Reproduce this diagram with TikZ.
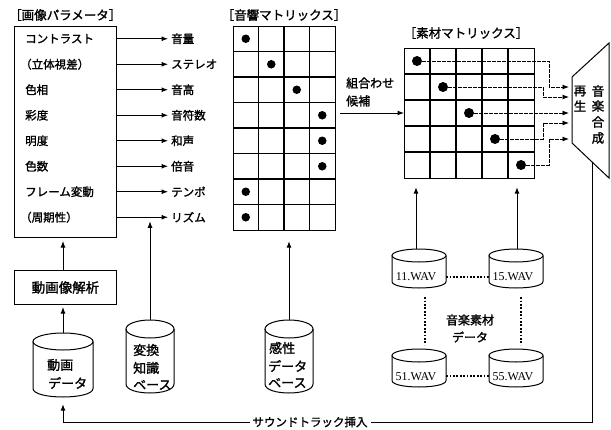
\documentclass[tikz,border=0pt]{standalone}
\usepackage{fontspec}
\setmainfont{Noto Sans CJK JP}[AutoFakeBold=1.5]
\newfontfamily\wavfont{Liberation Serif}
\usetikzlibrary{arrows.meta,calc}
\newcommand\dbcyl[6]{%
  \node[inner sep=0pt, minimum width=2*#5pt, minimum height=#4pt-#3pt] (#1) at (#2,{(#3+#4)/2}) {};
  \draw[ln] (#2-#5,#3+#6) -- (#2-#5,#4-#6) .. controls (#2-#5,{#4-#6+1.333*#6}) and (#2+#5,{#4-#6+1.333*#6}) .. (#2+#5,#4-#6) -- (#2+#5,#3+#6);
  \draw[ln] (#2,#3+#6) ellipse [x radius=#5, y radius=#6];
}
\begin{document}
\begin{tikzpicture}[x=1pt,y=-1pt,
  ln/.style={line width=1pt},
  arr/.style={ln,-{Latex[length=6.5pt,width=5pt]}},
  lbl/.style={font=\bfseries\fontsize{11.5}{12}\selectfont, inner sep=1pt},
  ttl/.style={font=\bfseries\fontsize{12.5}{13}\selectfont, inner sep=0pt},
  cyltxt/.style={font=\bfseries\fontsize{13}{14}\selectfont, inner sep=0pt, anchor=west},
  dotn/.style={fill=black, circle, inner sep=0pt},
  dsh/.style={line width=0.9pt, dash pattern=on 3.5pt off 1.5pt},
  dotl/.style={line width=2.6pt, dash pattern=on 1.8pt off 1.6pt},
  grid/.style={line width=1.1pt},
  box/.style={draw, ln, inner sep=0pt, anchor=north west}
]
\useasboundingbox (0,0) rectangle (611,429);

% ---- image parameters
\node[ttl, anchor=west] (ptitle) at (9,15) {［画像パラメータ］};
\node[box, minimum width=102pt, minimum height=211pt] (pbox) at (14,26) {};
\foreach \i/\a/\b/\dx in {1/コントラスト/音量/0, 2/（立体視差）/ステレオ/-5, 3/色相/音高/0, 4/彩度/音符数/0, 5/明度/和声/0, 6/色数/倍音/0, 7/フレーム変動/テンポ/0, 8/（周期性）/リズム/-5}{
  \pgfmathsetmacro\yy{26+25.5*(\i-0.5)}
  \node[lbl, anchor=west] (p\i) at (24+\dx,\yy) {\a};
  \node[lbl, anchor=west] (s\i) at (170,\yy) {\b};
  \draw[arr, shorten >=2pt] (pbox.east |- p\i) -- (s\i.west);
}

% ---- sound matrix
\node[ttl] (stitle) at (284,15) {［音響マトリックス］};
\node[box, grid, minimum width=102pt, minimum height=204pt] (smat) at (233,26) {};
\foreach \c in {1,2,3} \draw[grid] (233+25.5*\c,26) -- (233+25.5*\c,230);
\foreach \r in {1,...,7} \draw[grid] (233,26+25.5*\r) -- (335,26+25.5*\r);
\foreach \r/\c in {1/1,2/2,3/3,4/4,5/4,6/4,7/1,8/1}
  \node[dotn, minimum size=8.5pt] (sd\r) at (233+25.5*\c-12.75, 26+25.5*\r-12.75) {};

% ---- combination candidates
\node[lbl, anchor=west, font=\bfseries\fontsize{12}{12}\selectfont] (kumi1) at (345,83) {組合わせ};
\node[lbl, anchor=west, font=\bfseries\fontsize{12}{12}\selectfont] (kumi2) at (345,101) {候補};
\coordinate (kin) at (340,113);

% ---- material matrix
\node[ttl] (mtitle) at (466,33) {［素材マトリックス］};
\node[box, grid, minimum width=130pt, minimum height=130pt] (mmat) at (404,48) {};
\foreach \c in {1,...,4} \draw[grid] (404+26*\c,48) -- (404+26*\c,178);
\foreach \r in {1,...,4} \draw[grid] (404,48+26*\r) -- (534,48+26*\r);
\foreach \i in {1,...,5}
  \node[dotn, minimum size=10pt] (md\i) at (404+26*\i-13, 48+26*\i-13) {};
\draw[arr] (kin) -- (mmat.west |- kin);

% ---- synthesizer
\coordinate (t1) at (572,77);
\coordinate (t2) at (609,43);
\coordinate (t3) at (609,178);
\coordinate (t4) at (572,143);
\draw[ln] (t1) -- (t2) -- (t3) -- (t4) -- cycle;
\node[ttl, font=\bfseries\fontsize{12.5}{13}\selectfont] (sa) at (580,91) {再};
\node[ttl, font=\bfseries\fontsize{12.5}{13}\selectfont] (sb) at (580,106) {生};
\node[ttl, font=\bfseries\fontsize{12.5}{13}\selectfont] (sc) at (598,91) {音};
\node[ttl, font=\bfseries\fontsize{12.5}{13}\selectfont] (sdd) at (598,106) {楽};
\node[ttl, font=\bfseries\fontsize{12.5}{13}\selectfont] (se) at (598,122) {合};
\node[ttl, font=\bfseries\fontsize{12.5}{13}\selectfont] (sf) at (598,138) {成};
\coordinate (in1) at (572,87);
\coordinate (in2) at (572,97);
\coordinate (in3) at (572,113);
\coordinate (in4) at (572,123);
\coordinate (in5) at (572,139);
\draw[dsh, -{Latex[length=6.5pt,width=5pt]}, shorten >=3pt] (md1.east) -- (549,61) -- (549,87) -- (in1);
\draw[dsh, -{Latex[length=6.5pt,width=5pt]}, shorten >=3pt] (md2.east) -- (543,87) -- (543,97) -- (in2);
\draw[dsh, -{Latex[length=6.5pt,width=5pt]}, shorten >=3pt] (md3.east) -- (in3);
\draw[dsh, -{Latex[length=6.5pt,width=5pt]}, shorten >=3pt] (md4.east) -- (543,139) -- (543,123) -- (in4);
\draw[dsh, -{Latex[length=6.5pt,width=5pt]}, shorten >=3pt] (md5.east) -- (549,165) -- (549,139) -- (in5);

% ---- video analysis
\node[box, minimum width=102pt, minimum height=34pt, anchor=north west, font=\bfseries\fontsize{13.5}{14}\selectfont] (ana) at (14,270) {動画像解析};

% ---- cylinders
\dbcyl{vdata}{63}{333}{397}{30}{8.5}
\dbcyl{kb}{150}{320}{393}{24}{9}
\dbcyl{sdb}{289}{320}{393}{24}{9}
\dbcyl{w11}{419}{249}{288}{27}{6.5}
\dbcyl{w15}{516}{249}{288}{27}{6.5}
\dbcyl{w51}{419}{349}{387}{27}{6.5}
\dbcyl{w55}{516}{349}{387}{27}{6.5}

\node[cyltxt] (vt1) at (47,365) {動画};
\node[cyltxt] (vt2) at (48,383) {データ};
\node[cyltxt] (kt1) at (133,350) {変換};
\node[cyltxt] (kt2) at (133,368) {知識};
\node[cyltxt] (kt3) at (133,385) {ベース};
\node[cyltxt] (gt1) at (269,348) {感性};
\node[cyltxt] (gt2) at (268,366) {データ};
\node[cyltxt] (gt3) at (268,383) {ベース};

\foreach \w/\t in {w11/11.WAV, w15/15.WAV, w51/51.WAV, w55/55.WAV}
  \node[inner sep=0pt, font=\wavfont\fontsize{12}{12}\selectfont] (\w l) at ([xshift=-3pt,yshift=-8.5pt]\w.center) {\t};

\node[ttl, font=\bfseries\fontsize{12}{12}\selectfont] (mm1) at (470,320) {音楽素材};
\node[ttl, font=\bfseries\fontsize{12}{12}\selectfont] (mm2) at (470,337) {データ};

\draw[dotl] ([yshift=-8.5pt]w11.east) -- ([yshift=-8.5pt]w15.west);
\draw[dotl] ([yshift=-8pt]w51.east) -- ([yshift=-8pt]w55.west);
\draw[dotl] ([xshift=6pt,yshift=-9pt]w11.south) -- ([xshift=6pt,yshift=4pt]w51.north);
\draw[dotl] ([xshift=5pt,yshift=-9pt]w15.south) -- ([xshift=5pt,yshift=4pt]w55.north);

% ---- vertical arrows
\draw[arr, shorten >=2pt] (vdata.north) -- (vdata.north |- ana.south);
\draw[arr, shorten >=3pt] (vdata.north |- ana.north) -- (vdata.north |- pbox.south);
\draw[arr, shorten >=4pt] (kb.north) -- (kb.north |- p8);
\draw[arr, shorten >=10pt] (sdb.north) -- (sdb.north |- smat.south);
\draw[arr, shorten >=8pt] ([xshift=-3pt]w11.north) -- ([xshift=-3pt]w11.north |- mmat.south);
\draw[arr, shorten >=8pt] ([xshift=1pt]w15.north) -- ([xshift=1pt]w15.north |- mmat.south);

% ---- soundtrack feedback
\coordinate (fb) at (592,162);
\coordinate (fbr) at (592,422);
\draw[arr, shorten >=7pt] (fb) -- (fbr) -- (vdata.south |- fbr) -- (vdata.south);
\node[lbl, fill=white, inner sep=3pt] (strk) at (310,422) {サウンドトラック挿入};
\end{tikzpicture}
\end{document}
